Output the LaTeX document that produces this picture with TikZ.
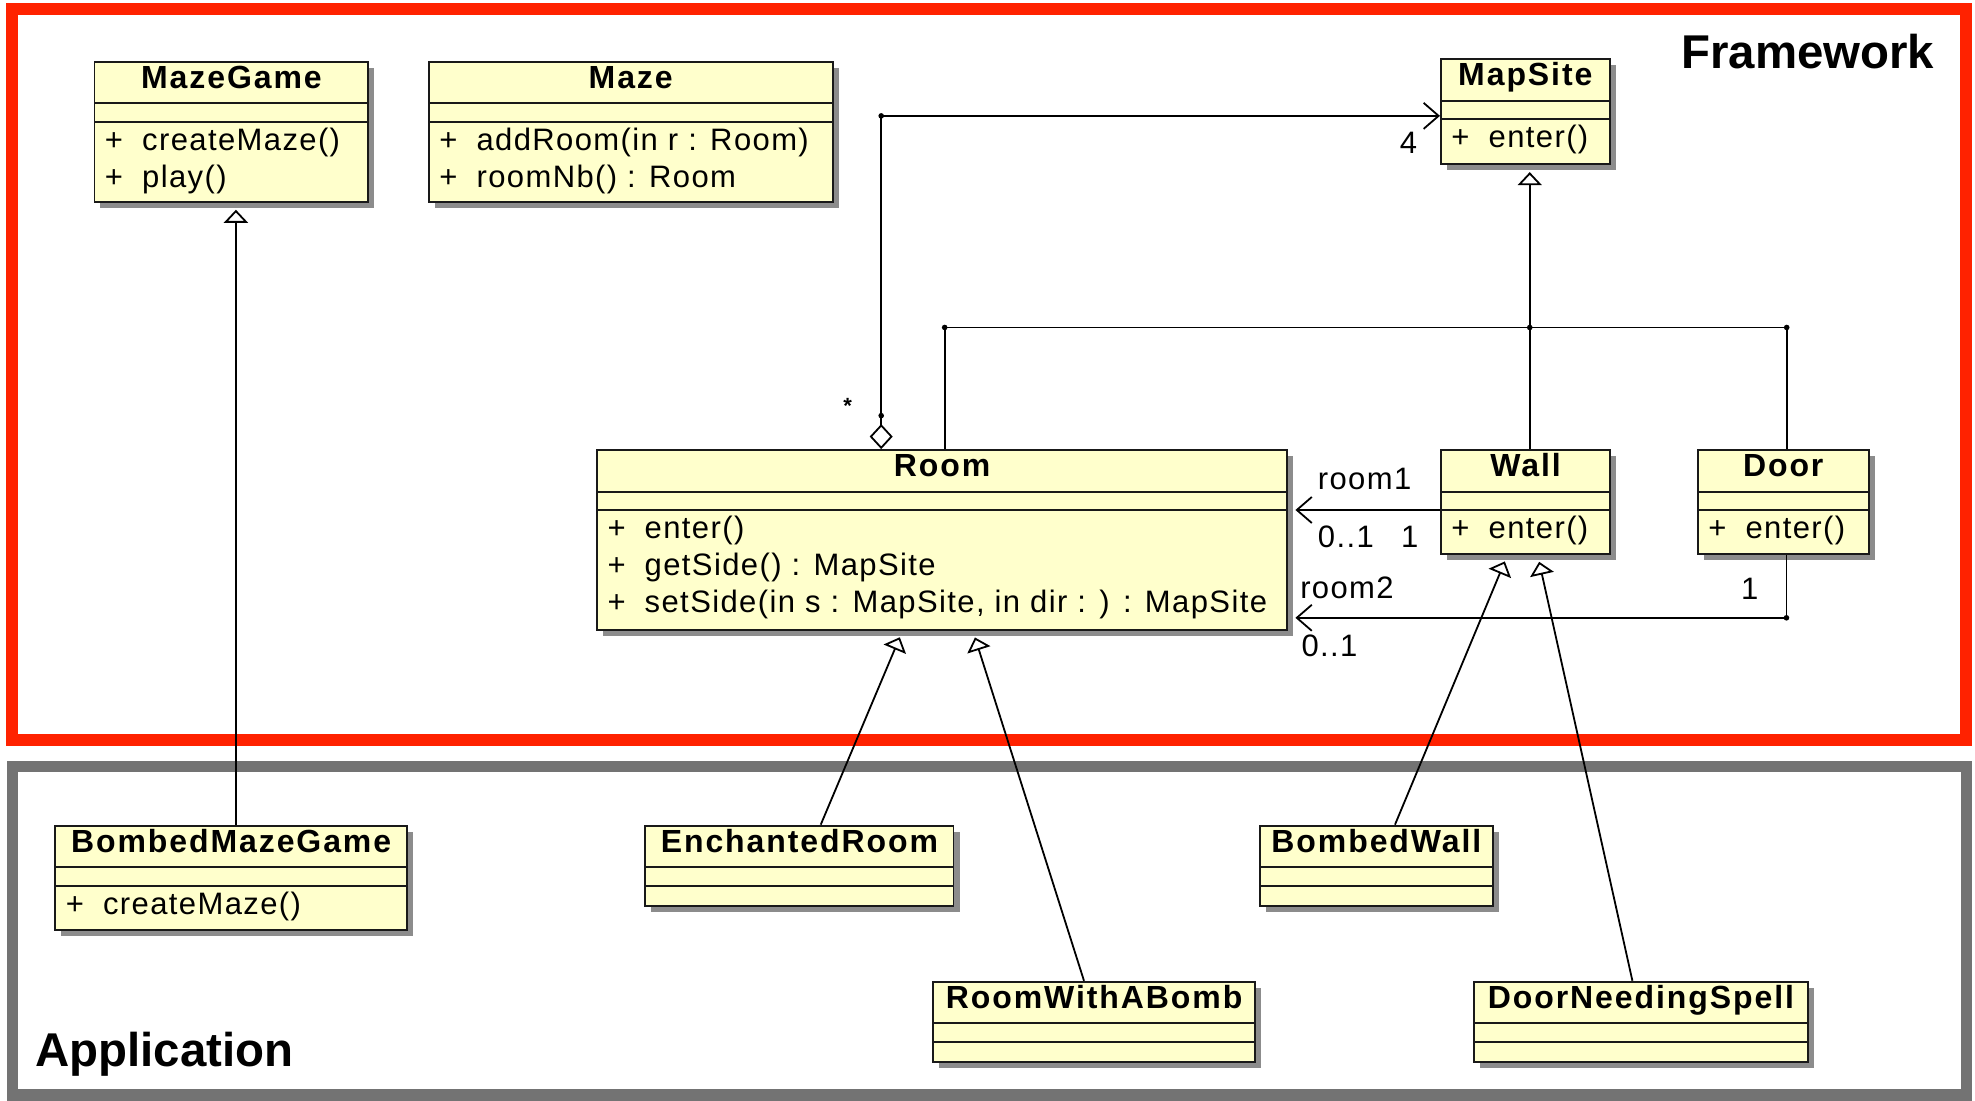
\documentclass[tikz,border=0pt]{standalone}
\usepackage{fontspec}
\setmainfont{Liberation Sans}
\newfontfamily\umlfont[LetterSpace=4.5]{Liberation Sans}
\newfontfamily\namefont[LetterSpace=6]{Liberation Sans}
\usetikzlibrary{arrows.meta, shadows, fit}
\definecolor{umlyellow}{RGB}{255,255,204}
\definecolor{framered}{RGB}{255,34,0}
\definecolor{framegray}{RGB}{115,115,115}
\newcommand{\meth}[1]{\makebox[18.6pt][l]{+}#1}

\begin{document}
\begin{tikzpicture}[x=0.6298pt, y=-0.6298pt,
    umlclass/.style={draw=black!90, line width=0.95pt, fill=umlyellow, inner sep=0pt,
        drop shadow={shadow xshift=3pt, shadow yshift=-3pt, fill=black!45, opacity=1}},
    sepline/.style={draw=black!90, line width=0.95pt},
    classname/.style={anchor=base, inner sep=0pt, font=\fontsize{16}{19}\namefont\bfseries},
    method/.style={anchor=base west, inner sep=0pt, font=\fontsize{15.5}{18}\umlfont},
    role/.style={anchor=base west, inner sep=0pt, font=\fontsize{15.5}{18}\umlfont},
    framelabel/.style={inner sep=0pt, font=\fontsize{23.7}{28}\selectfont\bfseries},
    conn/.style={line width=0.9pt},
    gen/.style={conn, -{Triangle[open, length=6.5pt, width=12pt]}, shorten >=3.4pt},
    nav/.style={conn, -{Straight Barb[length=7.5pt, width=13pt]}, shorten >=3.6pt},
    aggr/.style={conn, {Diamond[open, length=12.5pt, width=11.5pt]}-{Straight Barb[length=7.5pt, width=13pt]}}]
    \useasboundingbox (0,0) rectangle (1568,874);

    % frames
    \draw[framered, line width=6pt] (9.8,7.3) rectangle (1561,587.5);
    \draw[framegray, line width=5.7pt] (10,608.5) rectangle (1561,869.5);
    \node[framelabel, anchor=base east] (framework) at (1536,54.3) {Framework};
    \node[framelabel, anchor=base west] (application) at (27.8,846.8) {Application};

    % classes
    \node[umlclass, fit={(75,49) (292.5,160.4)}] (mazegame) {};
    \node[umlclass, fit={(340.5,49) (661,160.4)}] (maze) {};
    \node[umlclass, fit={(1144,47) (1278,130.5)}] (mapsite) {};
    \node[umlclass, fit={(474,357.3) (1022,500.2)}] (room) {};
    \node[umlclass, fit={(1144,357.3) (1278.5,440)}] (wall) {};
    \node[umlclass, fit={(1348,357.3) (1483.5,440)}] (door) {};
    \node[umlclass, fit={(44,655.5) (323,738.6)}] (bmazegame) {};
    \node[umlclass, fit={(512.4,655.5) (757,719.3)}] (enchroom) {};
    \node[umlclass, fit={(741,779.4) (996.3,843)}] (roombomb) {};
    \node[umlclass, fit={(1000,655.5) (1185.5,719.3)}] (bwall) {};
    \node[umlclass, fit={(1170.2,779.4) (1435.4,843)}] (dnspell) {};

    % compartments
    \draw[sepline] (75,82) -- (292.5,82);
    \draw[sepline] (75,96.6) -- (292.5,96.6);
    \draw[sepline] (340.5,82) -- (661,82);
    \draw[sepline] (340.5,96.6) -- (661,96.6);
    \draw[sepline] (1144,80.2) -- (1278,80.2);
    \draw[sepline] (1144,94.7) -- (1278,94.7);
    \draw[sepline] (474,390.3) -- (1022,390.3);
    \draw[sepline] (474,404.9) -- (1022,404.9);
    \draw[sepline] (1144,390.3) -- (1278.5,390.3);
    \draw[sepline] (1144,404.9) -- (1278.5,404.9);
    \draw[sepline] (1348,390.3) -- (1483.5,390.3);
    \draw[sepline] (1348,404.9) -- (1483.5,404.9);
    \draw[sepline] (44,688.3) -- (323,688.3);
    \draw[sepline] (44,703.2) -- (323,703.2);
    \draw[sepline] (512.4,688.3) -- (757,688.3);
    \draw[sepline] (512.4,703.2) -- (757,703.2);
    \draw[sepline] (741,812.5) -- (996.3,812.5);
    \draw[sepline] (741,827.3) -- (996.3,827.3);
    \draw[sepline] (1000,688.3) -- (1185.5,688.3);
    \draw[sepline] (1000,703.2) -- (1185.5,703.2);
    \draw[sepline] (1170.2,812.5) -- (1435.4,812.5);
    \draw[sepline] (1170.2,827.3) -- (1435.4,827.3);

    % names
    \node[classname] (mazegamename) at (183.75,70) {MazeGame};
    \node[classname] (mazename) at (500.75,70) {Maze};
    \node[classname] (mapsitename) at (1211,68) {MapSite};
    \node[classname] (roomname) at (748,378.3) {Room};
    \node[classname] (wallname) at (1211.25,378.3) {Wall};
    \node[classname] (doorname) at (1415.75,378.3) {Door};
    \node[classname] (bmazegamename) at (183.5,676.5) {BombedMazeGame};
    \node[classname] (enchroomname) at (634.7,676.5) {EnchantedRoom};
    \node[classname] (roombombname) at (868.65,800.4) {RoomWithABomb};
    \node[classname] (bwallname) at (1092.75,676.5) {BombedWall};
    \node[classname] (dnspellname) at (1302.8,800.4) {DoorNeedingSpell};

    % methods
    \node[method] (mazegameop1) at (83,119.1) {\meth{createMaze()}};
    \node[method] (mazegameop2) at (83,148.6) {\meth{play()}};
    \node[method] (mazeop1) at (348.5,119.1) {\meth{addRoom(in r : Room)}};
    \node[method] (mazeop2) at (348.5,148.6) {\meth{roomNb() : Room}};
    \node[method] (mapsiteop1) at (1152,117.2) {\meth{enter()}};
    \node[method] (roomop1) at (482,427.4) {\meth{enter()}};
    \node[method] (roomop2) at (482,456.9) {\meth{getSide() : MapSite}};
    \node[method] (roomop3) at (482,486.4) {\meth{setSide(in s : MapSite, in dir : ) : MapSite}};
    \node[method] (wallop1) at (1152,427.4) {\meth{enter()}};
    \node[method] (doorop1) at (1356,427.4) {\meth{enter()}};
    \node[method] (bmazegameop1) at (52,725.7) {\meth{createMaze()}};

    % inheritance
    \coordinate (treel) at (750,260);
    \coordinate (treem) at (1214.5,260);
    \coordinate (treer) at (1418.5,260);
    \draw[gen] (treem) -- (mapsite.south -| treem);
    \draw[conn] (room.north -| treel) -- (treel) -- (treer) -- (door.north -| treer);
    \draw[conn] (treem) -- (wall.north -| treem);
    \fill (treel) circle[radius=1.4pt];
    \fill (treem) circle[radius=1.4pt];
    \fill (treer) circle[radius=1.4pt];
    \draw[gen] (bmazegame.north -| 187.3,0) -- (mazegame.south -| 187.3,0);
    \draw[gen] (enchroom.north -| 651.6,0) -- (room.south -| 716.5,0);
    \draw[gen] (roombomb.north -| 860.6,0) -- (room.south -| 772.4,0);
    \draw[gen] (bwall.north -| 1107.5,0) -- (wall.south -| 1196.8,0);
    \draw[gen] (dnspell.north -| 1296,0) -- (wall.south -| 1220.8,0);

    % aggregation
    \coordinate (aggbend) at (699.6,92);
    \coordinate (aggfoot) at (699.6,330);
    \draw[aggr] (room.north -| aggbend) -- (aggbend) -- (mapsite.west |- aggbend);
    \fill (aggbend) circle[radius=1.4pt];
    \fill (aggfoot) circle[radius=1.4pt];
    \node[inner sep=0pt, font=\fontsize{11}{12}\selectfont\bfseries] (aggstar) at (673,322) {*};
    \node[role] (aggfour) at (1111,122) {4};

    % associations
    \draw[nav] (wall.west |- 0,404.9) -- (room.east |- 0,404.9);
    \coordinate (doorbend) at (1418.3,490.5);
    \draw[nav] (door.south -| doorbend) -- (doorbend) -- (room.east |- doorbend);
    \fill (doorbend) circle[radius=1.4pt];
    \node[role] (room1name) at (1046,389) {room1};
    \node[role] (room1mult) at (1046,435) {0..1};
    \node[role] (room1wall) at (1112,435) {1};
    \node[role] (room2name) at (1032,475) {room2};
    \node[role] (room2mult) at (1033,521.6) {0..1};
    \node[role] (room2door) at (1382,476) {1};
\end{tikzpicture}
\end{document}
